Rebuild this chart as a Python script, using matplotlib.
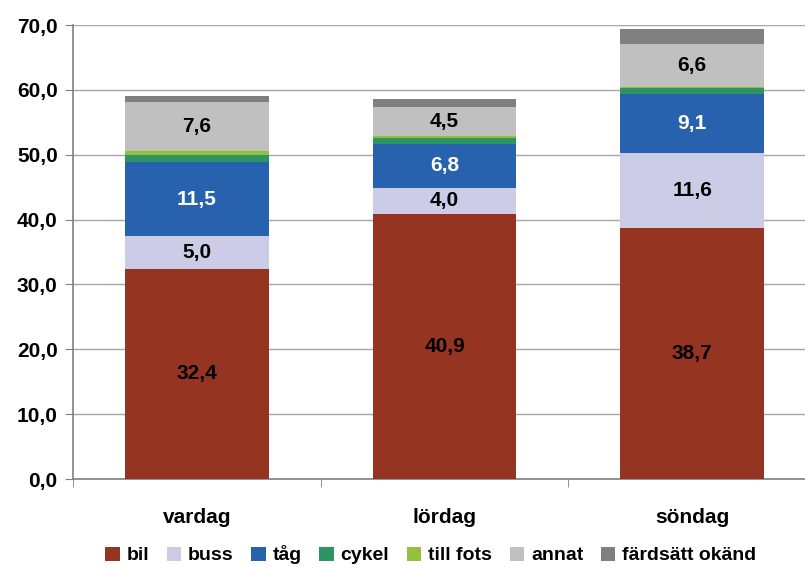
import matplotlib
matplotlib.use("Agg")
import matplotlib.pyplot as plt
import numpy as np

plt.rcParams['font.family'] = ['Liberation Sans', 'DejaVu Sans']
plt.rcParams['font.weight'] = 'bold'

days = ['vardag', 'lördag', 'söndag']
modes = ['bil', 'buss', 'tåg', 'cykel', 'till fots', 'annat', 'färdsätt okänd']
values = {
    'bil':            [32.4, 40.9, 38.7],
    'buss':           [5.0, 4.0, 11.6],
    'tåg':            [11.5, 6.8, 9.1],
    'cykel':          [1.0, 0.9, 0.9],
    'till fots':      [0.7, 0.3, 0.2],
    'annat':          [7.6, 4.5, 6.6],
    'färdsätt okänd': [0.9, 1.2, 2.3],
}
labelled = ['bil', 'buss', 'tåg', 'annat']
colors = ['#963422', '#CCCCE6', '#2862AF', '#2E9464', '#92C13C', '#C0C0C0', '#808080']

FS = 15

fig = plt.figure(figsize=(8.05, 5.7), dpi=100)
# axes runs slightly past the right edge like in the original
ax = fig.add_axes([73 / 805, 1 - 479 / 570, (816 - 73) / 805, (479 - 25) / 570])

x = np.arange(len(days))
bottom = np.zeros(len(days))
for mode, col in zip(modes, colors):
    v = np.array(values[mode])
    ax.bar(x, v, bottom=bottom, width=0.58, color=col, label=mode, zorder=3)
    if mode in labelled:
        txt_col = 'white' if mode == 'tåg' else 'black'
        for xi, b, vi in zip(x, bottom, v):
            ax.text(xi, b + vi / 2, f'{vi:.1f}'.replace('.', ','), ha='center', va='center',
                    color=txt_col, fontsize=FS, fontweight='bold', zorder=4)
    bottom += v

ax.set_xlim(-0.5, 2.5)
ax.set_ylim(0, 70)
ax.set_yticks(np.arange(0, 71, 10))
ax.set_yticklabels([f'{t:.1f}'.replace('.', ',') for t in np.arange(0, 71, 10)])
ax.set_xticks(x)
ax.set_xticklabels(days)
ax.set_xticks([-0.5, 0.5, 1.5, 2.5], minor=True)
ax.tick_params(axis='x', which='major', length=0, pad=21, labelsize=FS)
ax.tick_params(axis='x', which='minor', length=6, color='#808080')
ax.tick_params(axis='y', length=6, color='#808080', labelsize=FS, pad=5)

ax.grid(axis='y', color='#A6A6A6', linewidth=1, zorder=0)
for s in ['top', 'right']:
    ax.spines[s].set_visible(False)
for s in ['left', 'bottom']:
    ax.spines[s].set_color('#808080')
    ax.spines[s].set_linewidth(1.2)

handles, labels = ax.get_legend_handles_labels()
fig.legend(handles, labels, loc='center', bbox_to_anchor=(0.535, 1 - 555 / 570),
           ncol=7, frameon=False, fontsize=14, handlelength=0.75, handleheight=0.75,
           handletextpad=0.35, columnspacing=0.9)

fig.savefig('out.png', dpi=100)
